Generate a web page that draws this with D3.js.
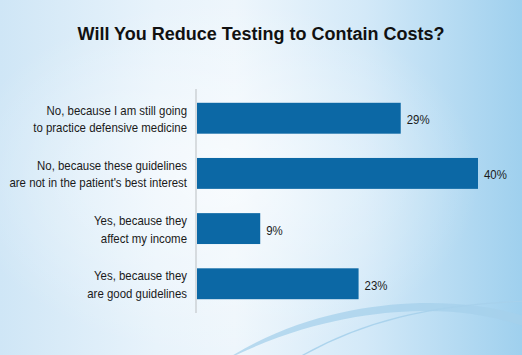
<!DOCTYPE html>
<html>
<head>
<meta charset="utf-8">
<script src="https://cdn.jsdelivr.net/npm/d3@7"></script>
<style>
  html, body { margin: 0; padding: 0; background: #fff; }
  svg { display: block; }
</style>
</head>
<body>
<svg id="chart" width="522" height="355"></svg>
<script>
const title = "Will You Reduce Testing to Contain Costs?";
const categories = [
  ["No, because I am still going", "to practice defensive medicine"],
  ["No, because these guidelines", "are not in the patient's best interest"],
  ["Yes, because they", "affect my income"],
  ["Yes, because they", "are good guidelines"]
];
const values = [29, 40, 9, 23];
const valueLabels = ["29%", "40%", "9%", "23%"];

const W = 522, H = 355;
const svg = d3.select("#chart");
const defs = svg.append("defs");

// background gradients
const lg = defs.append("linearGradient").attr("id", "bgH").attr("x1", 0).attr("x2", 1).attr("y1", 0).attr("y2", 0);
[[0, "#cfe6f6"], [0.3, "#e8f3fb"], [0.45, "#eef6fc"], [0.7, "#d3e9f8"], [1, "#9fd0ee"]]
  .forEach(([o, c]) => lg.append("stop").attr("offset", o).attr("stop-color", c));
const rg = defs.append("radialGradient").attr("id", "bgR").attr("cx", 0.42).attr("cy", 0.5).attr("r", 0.5);
rg.append("stop").attr("offset", 0).attr("stop-color", "#ffffff").attr("stop-opacity", 0.6);
rg.append("stop").attr("offset", 1).attr("stop-color", "#ffffff").attr("stop-opacity", 0);

svg.append("rect").attr("width", W).attr("height", H).attr("fill", "url(#bgH)");
svg.append("rect").attr("width", W).attr("height", H).attr("fill", "url(#bgR)");

// decorative swooshes
svg.append("path")
  .attr("d", "M222,362 C300,322 370,312 420,311 C465,310 500,318 530,328 L530,318 C500,308 465,302 420,303 C360,305 290,318 222,362 Z")
  .attr("fill", "#a6d0eb").attr("opacity", 0.75);
svg.append("path")
  .attr("d", "M298,358 C360,322 430,304 530,301")
  .attr("fill", "none").attr("stroke", "#a6d0eb").attr("stroke-width", 1.3).attr("opacity", 0.9);

// scales
const x = d3.scaleLinear().domain([0, 40]).range([197, 478]);
const y = d3.scaleBand().domain(d3.range(categories.length)).range([89, 313])
  .paddingInner(0.44).paddingOuter(0.25);

// title
svg.append("text")
  .attr("x", 261).attr("y", 40)
  .attr("text-anchor", "middle")
  .attr("font-family", "Liberation Sans, Arial, sans-serif")
  .attr("font-weight", "bold").attr("font-size", 18)
  .attr("fill", "#111")
  .text(title);

// bars
svg.append("g").selectAll("rect").data(values).join("rect")
  .attr("x", x(0))
  .attr("y", (d, i) => y(i))
  .attr("width", d => x(d) - x(0))
  .attr("height", y.bandwidth())
  .attr("fill", "#0c68a5");

// axis line
svg.append("line")
  .attr("x1", 196).attr("x2", 196)
  .attr("y1", y.range()[0]).attr("y2", y.range()[1])
  .attr("stroke", "#c4c8cc").attr("stroke-width", 1.2);

const font = "Liberation Sans, Arial, sans-serif";
const sx = 0.88;

// category labels
const lab = svg.append("g").selectAll("g").data(categories).join("g")
  .attr("transform", (d, i) => `translate(187,${y(i) + y.bandwidth() / 2}) scale(${sx},1)`);
lab.selectAll("text").data(d => d).join("text")
  .attr("x", 0)
  .attr("y", (d, j) => j === 0 ? -3.5 : 14)
  .attr("text-anchor", "end")
  .attr("font-family", font).attr("font-size", 13)
  .attr("fill", "#1a1a1a")
  .text(d => d);

// value labels
svg.append("g").selectAll("g").data(values).join("g")
  .attr("transform", (d, i) => `translate(${x(d) + 6},${y(i) + y.bandwidth() / 2 + 6}) scale(${sx},1)`)
  .append("text")
  .attr("font-family", font).attr("font-size", 13)
  .attr("fill", "#1a1a1a")
  .text((d, i) => valueLabels[i]);
</script>
</body>
</html>
